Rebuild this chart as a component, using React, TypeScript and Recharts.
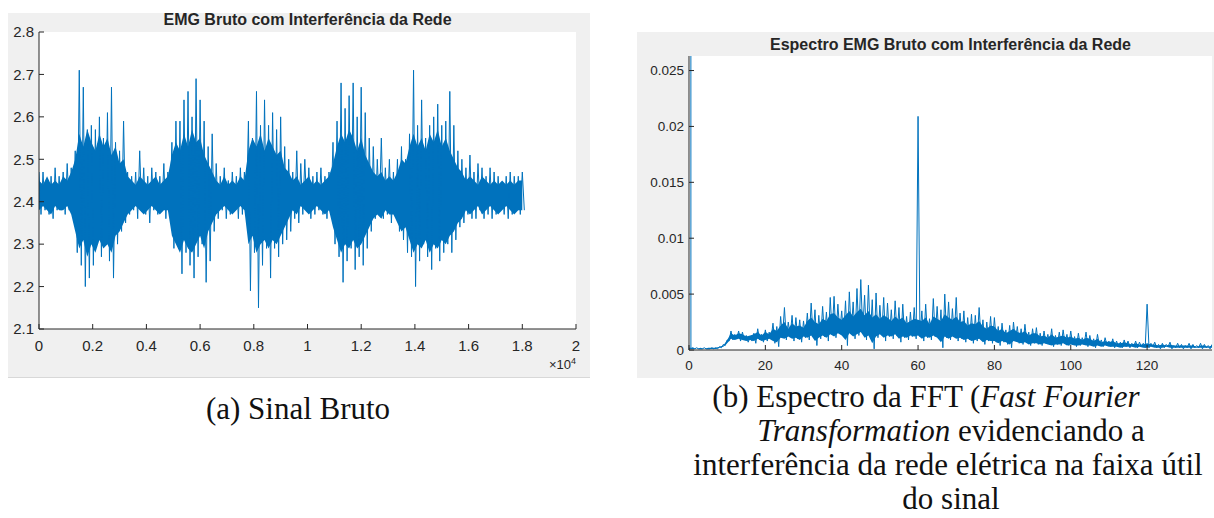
import { ComposedChart, Line, Area, XAxis, YAxis, CartesianGrid } from 'recharts';

// raw EMG: spike extremes read every 150 samples (highs at n, lows at n + 75)
const SPIKE_STEP = 150;
const upperSpikes = [
  2.47, 2.47, 2.45, 2.46, 2.48, 2.46, 2.47, 2.49, 2.48,
  2.52, 2.71, 2.67, 2.57, 2.58, 2.57, 2.6, 2.55, 2.61, 2.67, 2.54, 2.52, 2.59,
  2.47, 2.46, 2.47, 2.52, 2.48, 2.46, 2.48, 2.47, 2.46, 2.49, 2.47,
  2.54, 2.59, 2.59, 2.64, 2.66, 2.6, 2.69, 2.64, 2.59, 2.53,
  2.56, 2.49, 2.46, 2.48, 2.45, 2.47, 2.46, 2.48, 2.47,
  2.59, 2.55, 2.66, 2.58, 2.64, 2.58, 2.61, 2.57, 2.6, 2.53,
  2.5, 2.47, 2.52, 2.49, 2.5, 2.48, 2.46, 2.47, 2.48, 2.46, 2.47,
  2.54, 2.59, 2.68, 2.62, 2.65, 2.68, 2.6, 2.67, 2.61, 2.55,
  2.53, 2.5, 2.55, 2.48, 2.5, 2.47,
  2.5, 2.53, 2.5, 2.56, 2.71, 2.58, 2.64, 2.55, 2.58, 2.6, 2.63, 2.58, 2.59, 2.66, 2.58, 2.52,
  2.5, 2.48, 2.51, 2.47, 2.49, 2.48, 2.46, 2.48, 2.47, 2.46, 2.44, 2.46, 2.47, 2.46, 2.46, 2.47,
];
const lowerSpikes = [
  2.37, 2.38, 2.37, 2.36, 2.38, 2.38, 2.37, 2.38, 2.37,
  2.28, 2.25, 2.2, 2.22, 2.25, 2.31, 2.27, 2.3, 2.26, 2.22, 2.3, 2.33, 2.35,
  2.37, 2.38, 2.36, 2.38, 2.37, 2.35, 2.38, 2.37, 2.38, 2.36, 2.37,
  2.29, 2.3, 2.23, 2.28, 2.25, 2.22, 2.27, 2.3, 2.21, 2.26,
  2.33, 2.36, 2.38, 2.36, 2.37, 2.38, 2.36, 2.37, 2.38,
  2.19, 2.28, 2.15, 2.25, 2.29, 2.22, 2.29, 2.27, 2.3, 2.31,
  2.33, 2.36, 2.35, 2.37, 2.38, 2.36, 2.37, 2.38, 2.37, 2.36, 2.38,
  2.3, 2.27, 2.21, 2.26, 2.29, 2.24, 2.27, 2.25, 2.29, 2.33,
  2.36, 2.38, 2.36, 2.37, 2.35, 2.37,
  2.33, 2.31, 2.28, 2.27, 2.2, 2.26, 2.3, 2.27, 2.24, 2.29, 2.26, 2.28, 2.3, 2.28, 2.31, 2.34,
  2.35, 2.37, 2.36, 2.36, 2.38, 2.36, 2.37, 2.36, 2.37, 2.38, 2.37, 2.36, 2.37, 2.38, 2.37, 2.38,
];
// dense (solid) part of the signal, same 150-sample grid
const coreTop = [
  2.45, 2.44, 2.46, 2.44, 2.45, 2.44, 2.46, 2.45, 2.47,
  2.5, 2.56, 2.53, 2.57, 2.54, 2.52, 2.56, 2.53, 2.55, 2.51, 2.53, 2.49, 2.5,
  2.46, 2.45, 2.44, 2.46, 2.45, 2.44, 2.45, 2.46, 2.44, 2.45, 2.46,
  2.51, 2.54, 2.52, 2.56, 2.53, 2.57, 2.54, 2.55, 2.51, 2.49,
  2.47, 2.45, 2.44, 2.46, 2.44, 2.45, 2.44, 2.46, 2.45,
  2.52, 2.55, 2.53, 2.56, 2.52, 2.55, 2.53, 2.51, 2.52, 2.48,
  2.47, 2.45, 2.46, 2.44, 2.45, 2.46, 2.44, 2.45, 2.44, 2.45, 2.46,
  2.49, 2.53, 2.56, 2.54, 2.57, 2.55, 2.52, 2.55, 2.51, 2.49,
  2.47, 2.46, 2.47, 2.45, 2.46, 2.45,
  2.47, 2.5, 2.49, 2.53, 2.56, 2.53, 2.55, 2.52, 2.56, 2.54, 2.57, 2.53, 2.55, 2.52, 2.5, 2.48,
  2.47, 2.45, 2.46, 2.45, 2.44, 2.46, 2.45, 2.44, 2.45, 2.44, 2.45, 2.44, 2.45, 2.44, 2.45, 2.45,
];
const coreBottom = [
  2.38, 2.39, 2.38, 2.37, 2.39, 2.38, 2.38, 2.39, 2.37,
  2.33, 2.29, 2.31, 2.27, 2.3, 2.28, 2.31, 2.29, 2.3, 2.28, 2.32, 2.33, 2.35,
  2.37, 2.38, 2.39, 2.38, 2.37, 2.38, 2.39, 2.38, 2.37, 2.38, 2.38,
  2.32, 2.3, 2.28, 2.31, 2.29, 2.28, 2.3, 2.32, 2.29, 2.33,
  2.35, 2.37, 2.38, 2.39, 2.38, 2.37, 2.38, 2.39, 2.38,
  2.3, 2.32, 2.28, 2.3, 2.31, 2.29, 2.31, 2.3, 2.32, 2.34,
  2.36, 2.38, 2.37, 2.39, 2.38, 2.37, 2.38, 2.39, 2.38, 2.37, 2.38,
  2.34, 2.31, 2.28, 2.3, 2.29, 2.31, 2.29, 2.3, 2.32, 2.34,
  2.36, 2.37, 2.36, 2.38, 2.37, 2.37,
  2.35, 2.33, 2.34, 2.31, 2.28, 2.3, 2.29, 2.31, 2.28, 2.3, 2.29, 2.31, 2.3, 2.32, 2.33, 2.35,
  2.36, 2.38, 2.37, 2.38, 2.39, 2.37, 2.38, 2.39, 2.38, 2.37, 2.38, 2.39, 2.38, 2.37, 2.38, 2.38,
];
const sampleTicks = [0, 2000, 4000, 6000, 8000, 10000, 12000, 14000, 16000, 18000, 20000];
const voltTicks = [2.1, 2.2, 2.3, 2.4, 2.5, 2.6, 2.7, 2.8];

// spectrum: peaks at each integer Hz, valleys at Hz + 0.5
const spectrumPeaks = [
  2.41, 0.0002, 0.0002, 0.0001, 0.0002, 0.0001, 0.0002, 0.0002, 0.0003, 0.0005,
  0.0009, 0.0017, 0.0014, 0.0017, 0.0016, 0.0013, 0.0012, 0.0015, 0.0019, 0.0014,
  0.0018, 0.0016, 0.0024, 0.0021, 0.003, 0.0038, 0.0025, 0.0031, 0.0029, 0.0027,
  0.0026, 0.0033, 0.0042, 0.0036, 0.0031, 0.0039, 0.0034, 0.0047, 0.0048, 0.0041,
  0.0035, 0.0044, 0.0052, 0.0043, 0.0055, 0.0063, 0.0049, 0.0058, 0.0045, 0.0051,
  0.004, 0.0047, 0.0042, 0.0036, 0.0044, 0.0038, 0.0041, 0.003, 0.0034, 0.0038,
  0.0209, 0.0035, 0.0041, 0.0028, 0.0046, 0.0039, 0.0036, 0.005, 0.0043, 0.0037,
  0.0047, 0.0033, 0.0035, 0.0029, 0.0032, 0.0031, 0.0038, 0.0027, 0.0025, 0.003,
  0.0029, 0.0021, 0.0024, 0.0018, 0.0022, 0.0025, 0.0021, 0.0019, 0.0023, 0.0016,
  0.0019, 0.002, 0.0015, 0.0017, 0.0014, 0.0019, 0.0013, 0.0016, 0.0018, 0.0014,
  0.0017, 0.0012, 0.0015, 0.0011, 0.0016, 0.0013, 0.001, 0.0014, 0.0009, 0.0011,
  0.0008, 0.001, 0.0008, 0.0007, 0.0009, 0.0008, 0.0006, 0.0008, 0.0007, 0.0006,
  0.0041, 0.0006, 0.0007, 0.0005, 0.0006, 0.0005, 0.0007, 0.0004, 0.0006, 0.0005,
  0.0004, 0.0006, 0.0005, 0.0004, 0.0006, 0.0005, 0.0004, 0.0005,
];
const spectrumValleys = [
  0.0001, 0.0001, 0.0001, 0.0001, 0.0001, 0.0001, 0.0001, 0.0001, 0.0002, 0.0004,
  0.0008, 0.0009, 0.001, 0.0008, 0.0009, 0.0007, 0.0008, 0.0006, 0.0009, 0.0007,
  0.0008, 0.001, 0.0006, 0.0003, 0.0011, 0.0009, 0.0012, 0.0008, 0.001, 0.0007,
  0.0011, 0.0009, 0.0013, 0.0004, 0.001, 0.0012, 0.0008, 0.0014, 0.0011, 0.0016,
  0.0012, 0.0004, 0.0015, 0.001, 0.0013, 0.0017, 0.0009, 0.0012, 0.0001, 0.0011,
  0.0014, 0.0008, 0.0012, 0.001, 0.0013, 0.0007, 0.0011, 0.0009, 0.0012, 0.001,
  0.0012, 0.0008, 0.0011, 0.0009, 0.0012, 0.001, 0.0002, 0.0011, 0.0009, 0.0012,
  0.0008, 0.001, 0.0007, 0.0009, 0.0006, 0.0008, 0.001, 0.0005, 0.0008, 0.0006,
  0.0007, 0.0004, 0.0007, 0.0005, 0.0002, 0.0008, 0.0006, 0.0005, 0.0007, 0.0004,
  0.0006, 0.0005, 0.0004, 0.0006, 0.0005, 0.0003, 0.0005, 0.0004, 0.0006, 0.0004,
  0.0005, 0.0003, 0.0004, 0.0005, 0.0003, 0.0004, 0.0002, 0.0004, 0.0003, 0.0004,
  0.0003, 0.0002, 0.0003, 0.0002, 0.0003, 0.0002, 0.0003, 0.0002, 0.0003, 0.0002,
  0.0002, 0.0003, 0.0002, 0.0001, 0.0002, 0.0003, 0.0001, 0.0002, 0.0002, 0.0001,
  0.0002, 0.0001, 0.0002, 0.0002, 0.0001, 0.0002, 0.0001,
];
// dense band of the spectrum at each integer Hz
const bandHigh = [
  0.0002, 0.0002, 0.0001, 0.0002, 0.0001, 0.0002, 0.0002, 0.0002, 0.0003, 0.0004,
  0.0009, 0.0015, 0.0013, 0.0015, 0.0014, 0.0012, 0.0013, 0.0014, 0.0016, 0.0013,
  0.0016, 0.0014, 0.0019, 0.0017, 0.0022, 0.0025, 0.0019, 0.0024, 0.0021, 0.0022,
  0.002, 0.0026, 0.0029, 0.0025, 0.0023, 0.0028, 0.0026, 0.0032, 0.0033, 0.0029,
  0.0027, 0.0031, 0.0035, 0.003, 0.0034, 0.0037, 0.0031, 0.0035, 0.0029, 0.0032,
  0.0028, 0.0031, 0.0029, 0.0026, 0.003, 0.0027, 0.0029, 0.0024, 0.0026, 0.0028,
  0.0027, 0.0026, 0.0029, 0.0023, 0.003, 0.0028, 0.0026, 0.0032, 0.0029, 0.0027,
  0.003, 0.0025, 0.0026, 0.0022, 0.0024, 0.0023, 0.0026, 0.0021, 0.0019, 0.0022,
  0.0021, 0.0017, 0.0019, 0.0015, 0.0017, 0.0019, 0.0016, 0.0015, 0.0017, 0.0013,
  0.0015, 0.0015, 0.0012, 0.0013, 0.0011, 0.0014, 0.0011, 0.0012, 0.0013, 0.0011,
  0.0012, 0.001, 0.0011, 0.0009, 0.0011, 0.001, 0.0008, 0.001, 0.0007, 0.0008,
  0.0007, 0.0008, 0.0006, 0.0006, 0.0007, 0.0006, 0.0005, 0.0006, 0.0005, 0.0005,
  0.0006, 0.0005, 0.0005, 0.0004, 0.0005, 0.0004, 0.0005, 0.0004, 0.0004, 0.0004,
  0.0004, 0.0004, 0.0004, 0.0003, 0.0004, 0.0004, 0.0003, 0.0004,
];
const bandLow = [
  0.0001, 0.0001, 0.0001, 0.0001, 0.0001, 0.0001, 0.0001, 0.0001, 0.0002, 0.0003,
  0.0006, 0.001, 0.0009, 0.001, 0.0009, 0.0008, 0.0009, 0.0008, 0.001, 0.0008,
  0.0009, 0.001, 0.0008, 0.0007, 0.0011, 0.001, 0.0012, 0.001, 0.0011, 0.0009,
  0.0012, 0.0011, 0.0013, 0.0008, 0.0011, 0.0013, 0.0011, 0.0014, 0.0012, 0.0015,
  0.0013, 0.0009, 0.0015, 0.0012, 0.0014, 0.0016, 0.0011, 0.0013, 0.0006, 0.0012,
  0.0014, 0.0011, 0.0013, 0.0012, 0.0014, 0.001, 0.0012, 0.0011, 0.0013, 0.0012,
  0.0013, 0.001, 0.0012, 0.0011, 0.0013, 0.0011, 0.0007, 0.0012, 0.001, 0.0012,
  0.001, 0.0011, 0.0009, 0.001, 0.0008, 0.0009, 0.001, 0.0007, 0.0009, 0.0008,
  0.0008, 0.0006, 0.0008, 0.0007, 0.0005, 0.0008, 0.0007, 0.0006, 0.0007, 0.0005,
  0.0006, 0.0006, 0.0005, 0.0006, 0.0005, 0.0004, 0.0005, 0.0005, 0.0006, 0.0004,
  0.0005, 0.0004, 0.0004, 0.0005, 0.0004, 0.0004, 0.0003, 0.0004, 0.0003, 0.0004,
  0.0003, 0.0003, 0.0003, 0.0002, 0.0003, 0.0003, 0.0003, 0.0002, 0.0003, 0.0002,
  0.0002, 0.0003, 0.0002, 0.0002, 0.0002, 0.0003, 0.0002, 0.0002, 0.0002, 0.0002,
  0.0002, 0.0002, 0.0002, 0.0002, 0.0002, 0.0002, 0.0002, 0.0002,
];
const freqTicks = [0, 20, 40, 60, 80, 100, 120];
const ampTicks = [0, 0.005, 0.01, 0.015, 0.02, 0.025];

const BLUE = '#0072BD';
const AXIS = '#262626';
const SANS = '"Liberation Sans", Arial, sans-serif';
const SERIF = '"Liberation Serif", "Times New Roman", serif';

const signalData = upperSpikes.flatMap((u, i) => [
  { n: i * SPIKE_STEP, v: u },
  { n: i * SPIKE_STEP + SPIKE_STEP / 2, v: lowerSpikes[i] },
]);
const coreData = coreTop.map((t, j) => ({ n: j * SPIKE_STEP, band: [coreBottom[j], t] }));

const spectrumData = spectrumPeaks.flatMap((p, f) =>
  f < spectrumValleys.length
    ? [{ f, a: p }, { f: f + 0.5, a: spectrumValleys[f] }]
    : [{ f, a: p }],
);
const bandData = bandHigh.map((h, f) => ({ f, band: [bandLow[f], h] }));

const NoLabel = () => <g />;

function SignalChart() {
  return (
    <ComposedChart width={582} height={364} margin={{ top: 19, right: 14, bottom: 0, left: 0 }}>
      <CartesianGrid fill='#fff' horizontal={false} vertical={false} />
      <XAxis
        dataKey='n'
        type='number'
        domain={[0, 20000]}
        ticks={sampleTicks}
        allowDataOverflow
        height={48}
        tickSize={-5}
        tickMargin={16}
        stroke={AXIS}
        tick={{ fill: AXIS, fontSize: 15, fontFamily: SANS }}
        tickFormatter={(v: number) => String(+(v / 10000).toFixed(1))}
      />
      <XAxis
        xAxisId='top'
        orientation='top'
        type='number'
        domain={[0, 20000]}
        ticks={sampleTicks}
        allowDataOverflow
        height={0}
        tickSize={-5}
        stroke={AXIS}
        tick={NoLabel}
      />
      <YAxis
        type='number'
        domain={[2.1, 2.8]}
        ticks={voltTicks}
        allowDataOverflow
        width={31}
        tickSize={-5}
        tickMargin={10}
        stroke={AXIS}
        tick={{ fill: AXIS, fontSize: 15, fontFamily: SANS }}
        tickFormatter={(v: number) => v.toFixed(1)}
      />
      <YAxis
        yAxisId='right'
        orientation='right'
        type='number'
        domain={[2.1, 2.8]}
        ticks={voltTicks}
        allowDataOverflow
        width={0}
        tickSize={-5}
        stroke={AXIS}
        tick={NoLabel}
      />
      <Area
        data={coreData}
        dataKey='band'
        type='linear'
        stroke='none'
        fill={BLUE}
        fillOpacity={1}
        isAnimationActive={false}
      />
      <Line
        data={signalData}
        dataKey='v'
        type='linear'
        stroke={BLUE}
        strokeWidth={1}
        dot={false}
        isAnimationActive={false}
      />
    </ComposedChart>
  );
}

function SpectrumChart() {
  return (
    <ComposedChart width={577} height={346} margin={{ top: 24, right: 2, bottom: 0, left: 0 }}>
      <CartesianGrid fill='#fff' horizontal={false} vertical={false} />
      <XAxis
        dataKey='f'
        type='number'
        domain={[0, 137]}
        ticks={freqTicks}
        allowDataOverflow
        height={28}
        tickSize={-5}
        tickMargin={15}
        stroke={AXIS}
        tick={{ fill: AXIS, fontSize: 13.5, fontFamily: SANS }}
      />
      <XAxis
        xAxisId='top'
        orientation='top'
        type='number'
        domain={[0, 137]}
        ticks={freqTicks}
        allowDataOverflow
        height={0}
        tickSize={-5}
        stroke={AXIS}
        tick={NoLabel}
      />
      <YAxis
        type='number'
        domain={[0, 0.0263]}
        ticks={ampTicks}
        allowDataOverflow
        width={52}
        tickSize={-5}
        tickMargin={10}
        stroke={AXIS}
        tick={{ fill: AXIS, fontSize: 13.5, fontFamily: SANS }}
      />
      <YAxis
        yAxisId='right'
        orientation='right'
        type='number'
        domain={[0, 0.0263]}
        ticks={ampTicks}
        allowDataOverflow
        width={0}
        tickSize={-5}
        stroke={AXIS}
        tick={NoLabel}
      />
      <Area
        data={bandData}
        dataKey='band'
        type='linear'
        stroke='none'
        fill={BLUE}
        fillOpacity={1}
        isAnimationActive={false}
      />
      <Line
        data={spectrumData}
        dataKey='a'
        type='linear'
        stroke={BLUE}
        strokeWidth={1}
        dot={false}
        isAnimationActive={false}
      />
    </ComposedChart>
  );
}

const titleStyle = {
  position: 'absolute' as const,
  fontFamily: SANS,
  fontWeight: 700,
  fontSize: 16,
  lineHeight: '16px',
  color: AXIS,
  textAlign: 'center' as const,
  whiteSpace: 'nowrap' as const,
};

const captionLine = (center: number, top: number) => ({
  position: 'absolute' as const,
  left: center - 300,
  top,
  width: 600,
  textAlign: 'center' as const,
  fontFamily: SERIF,
  fontSize: 31,
  lineHeight: '34px',
  color: '#111',
  whiteSpace: 'nowrap' as const,
});

export default function App() {
  return (
    <div style={{ position: 'absolute', left: 0, top: 0, width: 1214, height: 518, background: '#fff', overflow: 'hidden' }}>
      <div style={{ position: 'absolute', left: 8, top: 13, width: 582, height: 364, background: '#f0f0f0', borderBottom: '1px solid #d8d8d8' }}>
        <SignalChart />
        <div style={{ ...titleStyle, left: 31, width: 537, top: -1 }}>EMG Bruto com Interferência da Rede</div>
        <div style={{ position: 'absolute', right: 14, top: 343, fontFamily: SANS, fontSize: 13, color: AXIS }}>
          ×10<sup style={{ fontSize: 9 }}>4</sup>
        </div>
      </div>
      <div style={{ position: 'absolute', left: 637, top: 32, width: 577, height: 346, background: '#f0f0f0' }}>
        <SpectrumChart />
        <div style={{ ...titleStyle, left: 52, width: 523, top: 5 }}>Espectro EMG Bruto com Interferência da Rede</div>
      </div>
      <div style={captionLine(298, 392)}>(a) Sinal Bruto</div>
      <div style={captionLine(926, 380)}>
        (b) Espectro da FFT (<i>Fast Fourier</i>
      </div>
      <div style={captionLine(951, 414)}>
        <i>Transformation</i> evidenciando a
      </div>
      <div style={captionLine(948, 448)}>interferência da rede elétrica na faixa útil</div>
      <div style={captionLine(951, 482)}>do sinal</div>
    </div>
  );
}
